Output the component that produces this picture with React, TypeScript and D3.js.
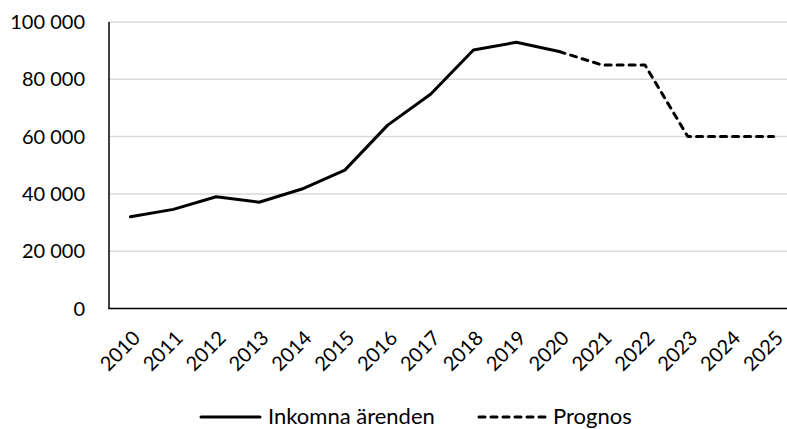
import { useEffect, useRef } from 'react';
import * as d3 from 'd3';

const years = ['2010', '2011', '2012', '2013', '2014', '2015', '2016', '2017', '2018', '2019', '2020', '2021', '2022', '2023', '2024', '2025'];
const inkomnaYears = years.slice(0, 11);
const inkomna = [32000, 34600, 39000, 37100, 41700, 48300, 64000, 74800, 90200, 92900, 89700];
const prognosYears = years.slice(10);
const prognos = [89700, 85000, 85000, 60000, 60000, 60000];
const yTicks = [0, 20000, 40000, 60000, 80000, 100000];

const FONT = 'Lato, "Open Sans", sans-serif';

export default function App() {
  const svgRef = useRef<SVGSVGElement>(null);

  useEffect(() => {
    if (!svgRef.current) return;
    const svg = d3.select(svgRef.current);
    svg.selectAll('*').remove();

    const width = 787;
    const height = 429;
    const margin = { top: 22, left: 109, right: 795, bottom: 308.5 };

    const x = d3.scalePoint<string>().domain(years).range([margin.left, margin.right]).padding(0.5);
    const y = d3.scaleLinear().domain([0, 100000]).range([margin.bottom, margin.top]);

    const fmt = d3.formatLocale({ thousands: ' ', grouping: [3], decimal: ',', currency: ['', ''] }).format(',');

    svg.attr('width', width).attr('height', height);

    // gridlines
    svg
      .append('g')
      .selectAll('line')
      .data(yTicks.filter((t) => t > 0))
      .join('line')
      .attr('x1', margin.left)
      .attr('x2', width)
      .attr('y1', (d) => y(d))
      .attr('y2', (d) => y(d))
      .attr('stroke', '#d9d9d9')
      .attr('stroke-width', 1.5);

    // y labels
    svg
      .append('g')
      .selectAll('text')
      .data(yTicks)
      .join('text')
      .attr('x', 85)
      .attr('y', (d) => y(d))
      .attr('dy', '0.35em')
      .attr('text-anchor', 'end')
      .attr('font-family', FONT)
      .attr('font-size', 20)
      .attr('fill', '#000')
      .text((d) => fmt(d));

    // axes
    svg
      .append('line')
      .attr('x1', margin.left)
      .attr('x2', margin.left)
      .attr('y1', margin.top)
      .attr('y2', margin.bottom)
      .attr('stroke', '#000')
      .attr('stroke-width', 1.5);
    svg
      .append('line')
      .attr('x1', margin.left - 0.75)
      .attr('x2', width)
      .attr('y1', margin.bottom)
      .attr('y2', margin.bottom)
      .attr('stroke', '#000')
      .attr('stroke-width', 1.5);

    // x labels (rotated)
    svg
      .append('g')
      .selectAll('text')
      .data(years)
      .join('text')
      .attr('transform', (d) => `translate(${(x(d) ?? 0) + 1},${margin.bottom + 21}) rotate(-45)`)
      .attr('dy', '0.7em')
      .attr('text-anchor', 'end')
      .attr('font-family', FONT)
      .attr('font-size', 20)
      .attr('fill', '#000')
      .text((d) => d);

    const line = d3
      .line<[string, number]>()
      .x((d) => x(d[0]) ?? 0)
      .y((d) => y(d[1]));

    svg
      .append('path')
      .datum(prognosYears.map((yr, i) => [yr, prognos[i]] as [string, number]))
      .attr('d', line)
      .attr('fill', 'none')
      .attr('stroke', '#000')
      .attr('stroke-width', 3)
      .attr('stroke-linecap', 'round')
      .attr('stroke-linejoin', 'round')
      .attr('stroke-dasharray', '6 6');

    svg
      .append('path')
      .datum(inkomnaYears.map((yr, i) => [yr, inkomna[i]] as [string, number]))
      .attr('d', line)
      .attr('fill', 'none')
      .attr('stroke', '#000')
      .attr('stroke-width', 3)
      .attr('stroke-linecap', 'round')
      .attr('stroke-linejoin', 'round');

    // legend
    const lg = svg.append('g').attr('font-family', FONT).attr('font-size', 22);
    lg.append('line')
      .attr('x1', 201)
      .attr('x2', 260)
      .attr('y1', 417)
      .attr('y2', 417)
      .attr('stroke', '#000')
      .attr('stroke-width', 3)
      .attr('stroke-linecap', 'round');
    lg.append('text').attr('x', 268).attr('y', 424).text('Inkomna ärenden');
    lg.append('line')
      .attr('x1', 479)
      .attr('x2', 547)
      .attr('y1', 417)
      .attr('y2', 417)
      .attr('stroke', '#000')
      .attr('stroke-width', 3)
      .attr('stroke-linecap', 'round')
      .attr('stroke-dasharray', '6 6');
    lg.append('text').attr('x', 553).attr('y', 424).text('Prognos');
  }, []);

  return <svg ref={svgRef} style={{ position: 'absolute', left: 0, top: 0 }} />;
}
